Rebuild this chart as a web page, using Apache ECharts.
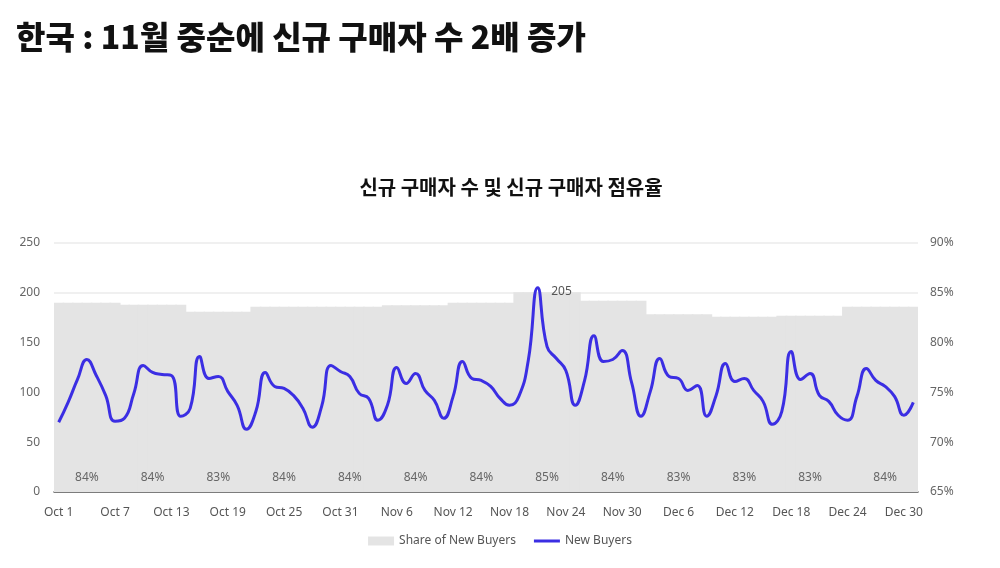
<!DOCTYPE html>
<html>
<head>
<meta charset="utf-8">
<script src="https://cdn.jsdelivr.net/npm/echarts@6/dist/echarts.min.js"></script>
<style>
html,body{margin:0;padding:0;background:#fff;}
#chart{width:1000px;height:568px;}
</style>
</head>
<body>
<div id="chart"></div>
<script>
// ---- data ----
const months = [['Oct', 31], ['Nov', 30], ['Dec', 31]];
const newBuyers = [
  70, 90, 113, 133, 117, 97, 71, 74, 99, 127,
  120, 118, 117, 76, 84, 136, 114, 116, 101, 87,
  63, 81, 120, 106, 104, 97, 84, 65, 86, 127,
  121, 116, 99, 94, 72, 87, 125, 109, 119, 102,
  92, 74, 96, 131, 114, 112, 106, 94, 87, 96,
  132, 205, 146, 134, 122, 87, 112, 157, 131, 133,
  142, 110, 76, 101, 134, 116, 114, 102, 107, 76,
  97, 129, 111, 114, 102, 91, 68, 81, 141, 113,
  119, 97, 91, 77, 72, 96, 124, 112, 106, 96,
  77, 90
];
const shareWeekly = [84.0, 83.8, 83.1, 83.6, 83.6, 83.75, 84.0, 85.05, 84.2, 82.85, 82.6, 82.7, 83.6];
const weekLengths = [7, 7, 7, 7, 7, 7, 7, 7, 7, 7, 7, 7, 8];
const weekLabelDay = [3, 3, 3, 3, 3, 3, 3, 3, 3, 3, 3, 3, 4];
const leftTicks = [0, 50, 100, 150, 200, 250];
const rightTicks = [65, 70, 75, 80, 85, 90];

// ---- build categories ----
const categories = [];
months.forEach(([m, n]) => { for (let d = 1; d <= n; d++) categories.push(m + ' ' + d); });

// ---- expand weekly share into daily bars ----
const shareDaily = [];
shareWeekly.forEach((v, w) => {
  for (let k = 0; k < weekLengths[w]; k++) {
    const item = { value: v };
    if (k === weekLabelDay[w]) item.label = { show: true };
    shareDaily.push(item);
  }
});

const chart = echarts.init(document.getElementById('chart'), null, { renderer: 'canvas' });
chart.setOption({
  animation: false,
  backgroundColor: '#fff',
  title: [
    { text: '한국 : 11월 중순에 신규 구매자 수 2배 증가', left: 11, top: 16,
      textStyle: { fontSize: 32, fontWeight: 900, color: '#111', fontFamily: 'Noto Sans CJK KR' } },
    { text: '신규 구매자 수 및 신규 구매자 점유율', left: 506, textAlign: 'center', top: 172,
      textStyle: { fontSize: 20, fontWeight: 'bold', color: '#111', fontFamily: 'Noto Sans CJK KR' } }
  ],
  legend: {
    bottom: 16, left: 'center', itemGap: 18, itemWidth: 26, itemHeight: 9,
    textStyle: { color: '#555', fontSize: 12, fontFamily: 'Noto Sans' },
    data: [
      { name: 'Share of New Buyers', icon: 'rect' },
      { name: 'New Buyers', icon: 'path://M0,0 L26,0 L26,3 L0,3 Z' }
    ]
  },
  grid: { left: 54, right: 82, top: 243, bottom: 76 },
  xAxis: {
    type: 'category', data: categories, boundaryGap: true,
    axisLine: { lineStyle: { color: '#555', width: 1.5 } },
    axisTick: { show: false },
    axisLabel: { interval: 5, color: '#555', fontSize: 12, margin: 15, fontFamily: 'Noto Sans' }
  },
  yAxis: [
    { type: 'value', min: leftTicks[0], max: leftTicks[leftTicks.length - 1], interval: 50,
      axisLine: { show: false }, axisTick: { show: false },
      axisLabel: { color: '#666', fontSize: 12, margin: 14, fontFamily: 'Noto Sans' },
      splitLine: { lineStyle: { color: '#ebebeb', width: 1.5 } } },
    { type: 'value', min: rightTicks[0], max: rightTicks[rightTicks.length - 1], interval: 5,
      axisLine: { show: false }, axisTick: { show: false },
      axisLabel: { color: '#666', fontSize: 12, margin: 12, formatter: '{value}%', fontFamily: 'Noto Sans' },
      splitLine: { show: false } }
  ],
  series: [
    { name: 'Share of New Buyers', type: 'bar', yAxisIndex: 1, data: shareDaily,
      barWidth: 11, barGap: '-100%', clip: true,
      itemStyle: { color: '#e4e4e4' },
      label: { show: false, position: 'insideBottom', distance: 8, color: '#666', fontSize: 12,
        fontFamily: 'Noto Sans', formatter: p => Math.round(p.value) + '%' },
      emphasis: { disabled: true } },
    { name: 'New Buyers', type: 'line', yAxisIndex: 0, data: newBuyers,
      smooth: 0.5, symbol: 'none', showSymbol: false,
      lineStyle: { color: '#3b2ee3', width: 3 }, itemStyle: { color: '#3b2ee3' }, z: 5,
      markPoint: {
        symbol: 'circle', symbolSize: 1, itemStyle: { color: 'rgba(0,0,0,0)' },
        label: { show: true, position: 'right', distance: 13, offset: [0, 4], color: '#555', fontSize: 12,
          fontFamily: 'Noto Sans', formatter: '{c}' },
        data: [{ type: 'max' }]
      } }
  ]
});
</script>
</body>
</html>
